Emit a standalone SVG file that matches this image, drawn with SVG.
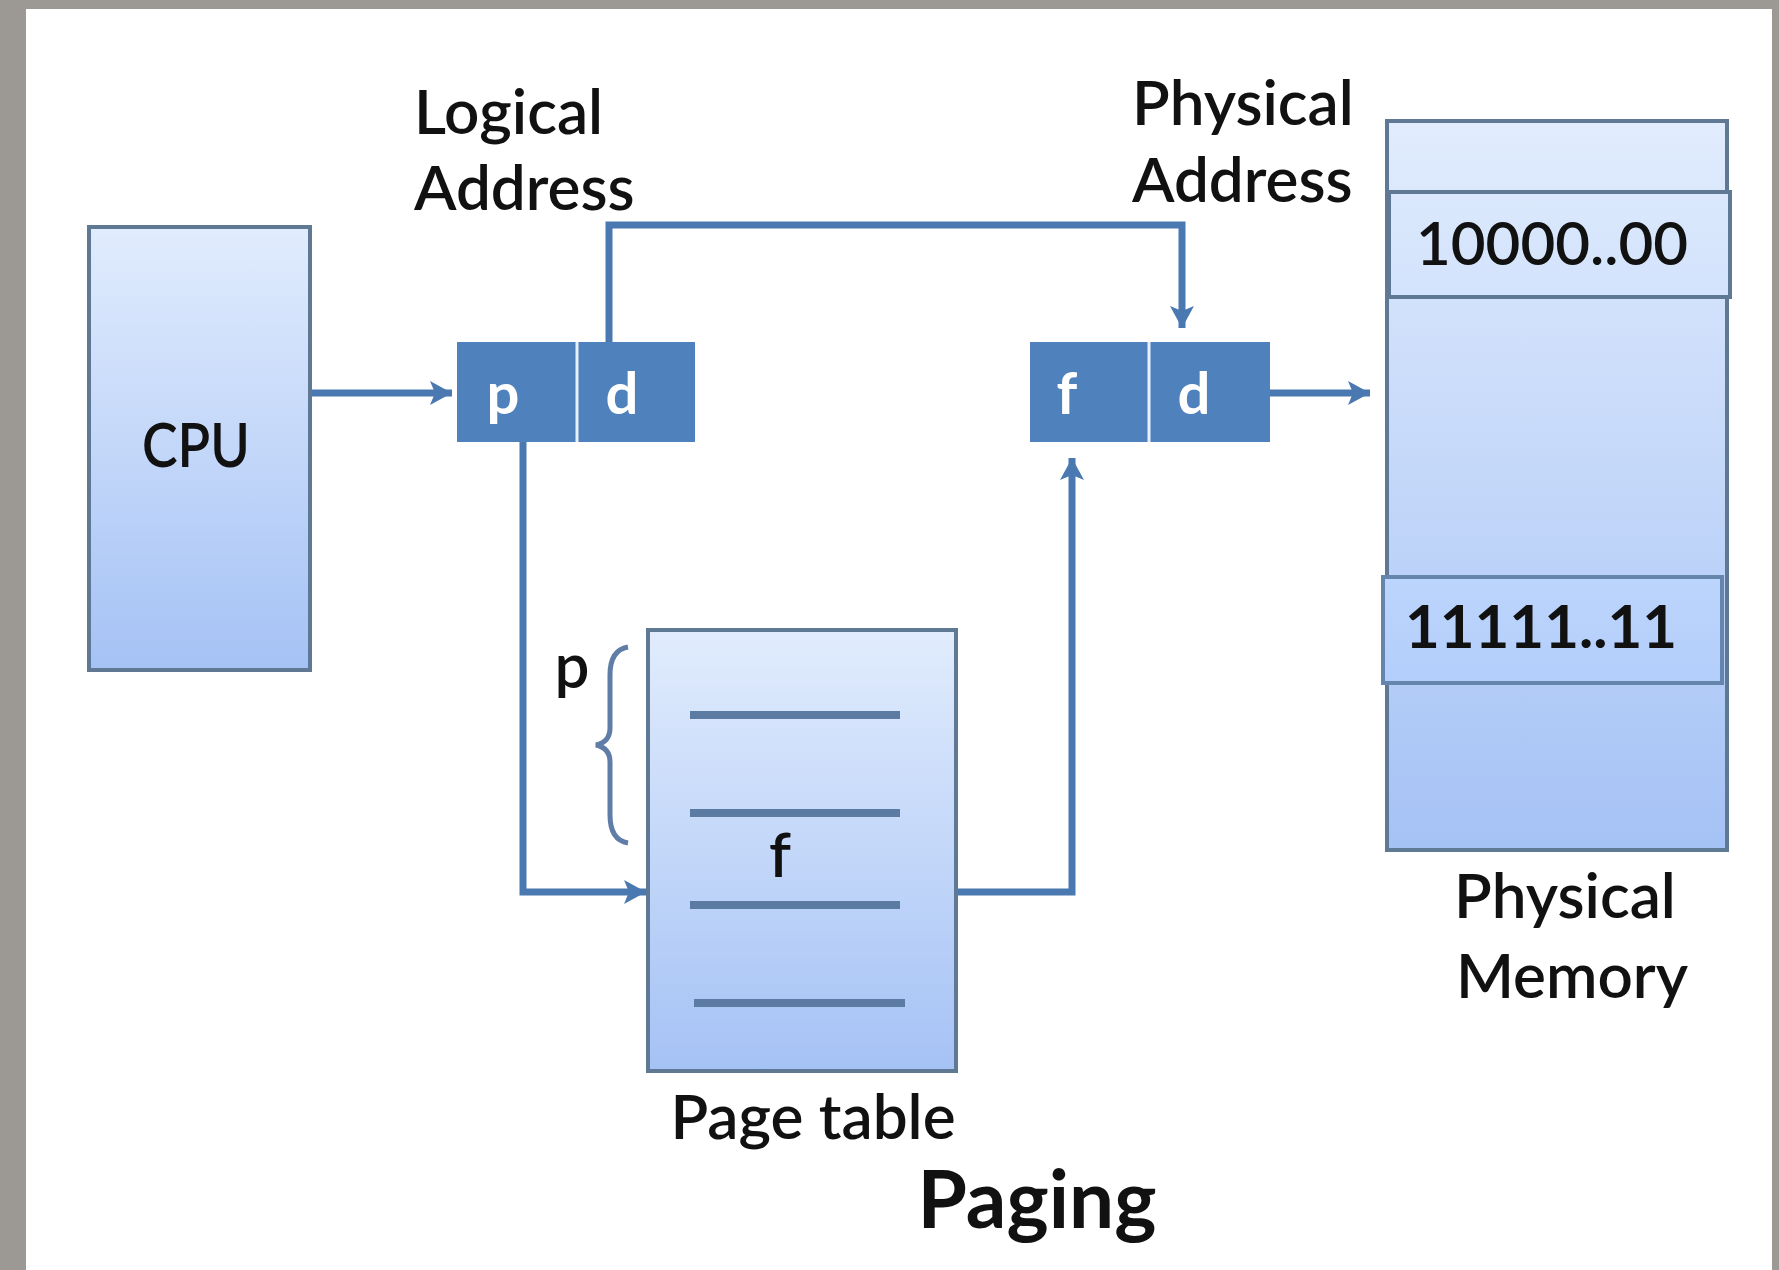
<svg xmlns="http://www.w3.org/2000/svg" width="1779" height="1270" viewBox="0 0 1779 1270">
  <defs>
    <linearGradient id="boxGrad" x1="0" y1="0" x2="0" y2="1">
      <stop offset="0" stop-color="#e1ecfd"/>
      <stop offset="1" stop-color="#a5c2f5"/>
    </linearGradient>
    <linearGradient id="cellGrad" x1="0" y1="0" x2="0" y2="1">
      <stop offset="0" stop-color="#dbe8fc"/>
      <stop offset="1" stop-color="#d3e3fc"/>
    </linearGradient>
    <linearGradient id="cell2Grad" x1="0" y1="0" x2="0" y2="1">
      <stop offset="0" stop-color="#bcd5fc"/>
      <stop offset="1" stop-color="#b3cefb"/>
    </linearGradient>
    <marker id="arrow" markerUnits="userSpaceOnUse" markerWidth="24" markerHeight="26" viewBox="0 0 24 26" refX="22" refY="13" orient="auto">
      <path d="M0,1 L22,13 L0,25 L5,13 Z" fill="#4a78b0"/>
    </marker>
    <style>
      .box { fill: url(#boxGrad); stroke: #5f7893; stroke-width: 4; }
      .reg { fill: #4f81bd; }
      .div { stroke: #e8f0fb; stroke-width: 3; }
      .conn { fill: none; stroke: #4a78b0; stroke-width: 7; }
      .row { stroke: #5b7ba2; stroke-width: 8; }
      .lbl { font-family: Lato, "Liberation Sans", Arial, sans-serif; font-size: 62px; font-weight: 600; fill: #111; }
      .num { font-family: Lato, "Liberation Sans", Arial, sans-serif; font-size: 60px; font-weight: 600; fill: #111; text-anchor: middle; }
      .numb { font-family: Lato, "Liberation Sans", Arial, sans-serif; font-size: 60px; font-weight: bold; fill: #111; text-anchor: middle; }
      .title { font-family: Lato, "Liberation Sans", Arial, sans-serif; font-size: 80px; font-weight: bold; fill: #111; text-anchor: middle; }
      .wl { font-family: Lato, "Liberation Sans", Arial, sans-serif; font-size: 58px; font-weight: bold; fill: #ffffff; text-anchor: middle; }
    </style>
  </defs>

  <!-- background -->
  <rect x="0" y="0" width="1779" height="1270" fill="#9c9893"/>
  <rect x="26" y="9" width="1746" height="1261" fill="#ffffff"/>

  <g id="connectors">
    <line class="conn" x1="310" y1="393" x2="452" y2="393" marker-end="url(#arrow)"/>
    <polyline class="conn" points="609,342 609,225 1182,225 1182,328" marker-end="url(#arrow)"/>
    <line class="conn" x1="1270" y1="393" x2="1370" y2="393" marker-end="url(#arrow)"/>
    <polyline class="conn" points="523,442 523,892 646,892" marker-end="url(#arrow)"/>
    <polyline class="conn" points="956,892 1072,892 1072,458" marker-end="url(#arrow)"/>
  </g>

  <g id="cpu">
    <rect class="box" x="89" y="227" width="221" height="443"/>
    <text class="lbl" x="196" y="467" text-anchor="middle" textLength="108" lengthAdjust="spacingAndGlyphs">CPU</text>
  </g>

  <g id="logical-address">
    <text class="lbl" x="414" y="134">Logical</text>
    <text class="lbl" x="414" y="210">Address</text>
    <rect class="reg" x="457" y="342" width="238" height="100"/>
    <line class="div" x1="577" y1="342" x2="577" y2="442"/>
    <text class="wl" x="503" y="414">p</text>
    <text class="wl" x="622" y="414">d</text>
  </g>

  <g id="physical-address">
    <text class="lbl" x="1132" y="125">Physical</text>
    <text class="lbl" x="1132" y="202">Address</text>
    <rect class="reg" x="1030" y="342" width="240" height="100"/>
    <line class="div" x1="1149" y1="342" x2="1149" y2="442"/>
    <text class="wl" x="1067" y="414">f</text>
    <text class="wl" x="1194" y="414">d</text>
  </g>

  <g id="page-table">
    <rect class="box" x="648" y="630" width="308" height="441"/>
    <line class="row" x1="690" y1="715" x2="900" y2="715"/>
    <line class="row" x1="690" y1="813" x2="900" y2="813"/>
    <line class="row" x1="690" y1="905" x2="900" y2="905"/>
    <line class="row" x1="694" y1="1003" x2="905" y2="1003"/>
    <text class="lbl" x="780" y="877" text-anchor="middle">f</text>
    <path d="M628,647 Q610,650 610,675 L610,728 Q610,742 596,745 Q610,748 610,762 L610,815 Q610,840 628,843" fill="none" stroke="#5f7da6" stroke-width="5"/>
    <text class="lbl" x="572" y="688" text-anchor="middle">p</text>
    <text class="lbl" x="813" y="1139" text-anchor="middle">Page table</text>
  </g>

  <g id="physical-memory">
    <rect class="box" x="1387" y="121" width="340" height="729"/>
    <rect x="1389" y="192" width="341" height="105" fill="url(#cellGrad)" stroke="#5f7893" stroke-width="4"/>
    <text class="num" x="1552" y="265">10000..00</text>
    <rect x="1383" y="577" width="339" height="106" fill="url(#cell2Grad)" stroke="#6585ad" stroke-width="4"/>
    <text class="numb" x="1541" y="648">11111..11</text>
    <text class="lbl" x="1565" y="918" text-anchor="middle">Physical</text>
    <text class="lbl" x="1572" y="998" text-anchor="middle">Memory</text>
  </g>

  <g id="title">
    <text class="title" x="1037" y="1228">Paging</text>
  </g>
</svg>
